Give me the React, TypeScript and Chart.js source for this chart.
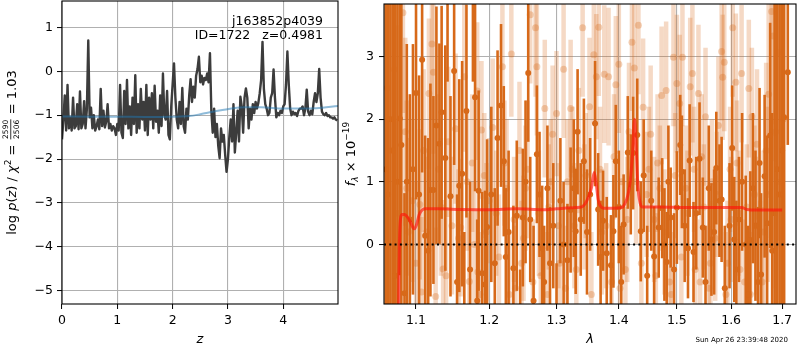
import React, { useEffect, useRef } from 'react';
import { Chart, registerables } from 'chart.js';
Chart.register(...registerables);

// ---------------- left panel: log p(z) ----------------
const zGrid = [
  0, 0.025, 0.05, 0.075, 0.1, 0.125, 0.15, 0.175, 0.2, 0.225,
  0.25, 0.275, 0.3, 0.325, 0.35, 0.375, 0.4, 0.425, 0.45, 0.475,
  0.5, 0.525, 0.55, 0.575, 0.6, 0.625, 0.65, 0.675, 0.7, 0.725,
  0.75, 0.775, 0.8, 0.825, 0.85, 0.875, 0.9, 0.925, 0.95, 0.975,
  1, 1.025, 1.05, 1.075, 1.1, 1.125, 1.15, 1.175, 1.2, 1.225,
  1.25, 1.275, 1.3, 1.325, 1.35, 1.375, 1.4, 1.425, 1.45, 1.475,
  1.5, 1.525, 1.55, 1.575, 1.6, 1.625, 1.65, 1.675, 1.7, 1.725,
  1.75, 1.775, 1.8, 1.825, 1.85, 1.875, 1.9, 1.925, 1.95, 1.975,
  2, 2.025, 2.05, 2.075, 2.1, 2.125, 2.15, 2.175, 2.2, 2.225,
  2.25, 2.275, 2.3, 2.325, 2.35, 2.375, 2.4, 2.425, 2.45, 2.475,
  2.5, 2.525, 2.55, 2.575, 2.6, 2.625, 2.65, 2.675, 2.7, 2.725,
  2.75, 2.775, 2.8, 2.825, 2.85, 2.875, 2.9, 2.925, 2.95, 2.975,
  3, 3.025, 3.05, 3.075, 3.1, 3.125, 3.15, 3.175, 3.2, 3.225,
  3.25, 3.275, 3.3, 3.325, 3.35, 3.375, 3.4, 3.425, 3.45, 3.475,
  3.5, 3.525, 3.55, 3.575, 3.6, 3.625, 3.65, 3.675, 3.7, 3.725,
  3.75, 3.775, 3.8, 3.825, 3.85, 3.875, 3.9, 3.925, 3.95, 3.975,
  4, 4.025, 4.05, 4.075, 4.1, 4.125, 4.15, 4.175, 4.2, 4.225,
  4.25, 4.275, 4.3, 4.325, 4.35, 4.375, 4.4, 4.425, 4.45, 4.475,
  4.5, 4.525, 4.55, 4.575, 4.6, 4.625, 4.65, 4.675, 4.7, 4.725,
  4.75, 4.775, 4.8, 4.825, 4.85, 4.875, 4.9, 4.925, 4.95, 4.975,
];
const logPz = [
  -1.55, -1.10, -0.55, -1.35, -0.31, -1.30, -1.05, -1.35, -0.60, -1.30,
  -1.25, -0.75, -1.32, -0.46, -1.30, -1.20, -0.68, -1.30, -0.85, 0.70,
  -1.05, -0.83, -1.30, -1.00, -1.35, -1.25, -1.10, -1.32, -0.40, -1.25,
  -0.90, -1.28, -1.15, -0.75, -1.30, -1.20, -1.35, -1.25, -1.30, -1.45,
  -1.20, -1.35, -0.31, -1.40, -1.52, -0.45, -1.20, -0.20, -1.30, -0.80,
  -1.45, -0.60, -1.20, -0.09, -1.40, -0.75, -1.30, -0.40, -1.10, -0.70,
  -1.35, -0.31, -1.45, -0.60, -1.10, -0.50, -1.30, -0.33, -1.15, -0.90,
  -1.40, -0.55, -1.25, -0.05, -1.00, -1.10, -0.45, -1.45, -1.55, -0.80,
  -0.30, 0.18, -0.60, -1.10, -1.30, -0.70, -1.20, -0.38, -1.25, -1.40,
  -0.85, -1.10, -0.55, -0.18, -0.70, -0.35, -0.60, -0.10, 0.05, 0.33,
  -0.25, -0.10, -0.30, -0.15, -0.20, -0.05, -0.25, 0.41, -0.90, -1.40,
  -0.85, -1.50, -1.20, -1.70, -1.98, -1.30, -1.60, -1.45, -1.90, -2.29,
  -2.00, -1.50, -1.10, -1.60, -0.75, -1.85, -1.40, -0.90, -1.60, -0.58,
  -0.80, -1.40, -0.60, -0.39, -0.60, -1.30, -0.85, -1.10, -0.75, -0.95,
  -0.70, -0.85, -0.72, -0.50, -0.20, 0.67, -0.40, -0.75, -0.85, -1.00,
  -0.95, -0.60, -0.50, 0.04, -0.60, -1.05, -0.95, -1.00, -0.90, -0.95,
  -0.80, -0.75, -0.30, 0.45, -0.30, -0.85, -1.00, -0.92, -0.98, -0.95,
  -1.02, -0.90, -0.85, -0.85, -0.80, -1.00, -0.85, -0.42, -0.92, -1.00,
  -0.90, -0.98, -0.70, -0.50, -0.70, -0.50, 0.05, -0.60, -0.92, -0.98,
  -1.00, -0.95, -1.02, -1.00, -1.05, -1.05, -1.08, -1.05, -1.10, -1.12,
];
const priorZ = [0, 0.5, 1.0, 1.5, 2.0, 2.3, 2.5, 2.7, 2.9, 3.1, 3.3, 3.6, 4.0, 4.3, 4.6, 4.99];
const priorLogP = [-1.03, -1.035, -1.035, -1.04, -1.035, -1.02, -0.98, -0.93, -0.88, -0.84, -0.82, -0.82, -0.85, -0.85, -0.84, -0.79];
const zTicks = [0, 1, 2, 3, 4];
const logPTicks = [-5, -4, -3, -2, -1, 0, 1];
const objName = 'j163852p4039';
const idLine = 'ID=1722   z=0.4981';

// ---------------- right panel: spectrum ----------------
const darkWave = [
  1.061, 1.064, 1.067, 1.070, 1.073, 1.076, 1.079, 1.081, 1.085, 1.088,
  1.092, 1.096, 1.100, 1.104, 1.108, 1.112, 1.116, 1.119, 1.123, 1.127,
  1.131, 1.134, 1.139, 1.142, 1.146, 1.151, 1.155, 1.158, 1.162, 1.165,
  1.168, 1.173, 1.177, 1.180, 1.183, 1.185, 1.190, 1.194, 1.197, 1.203,
  1.208, 1.212, 1.217, 1.221, 1.224, 1.228, 1.235, 1.240, 1.245, 1.249,
  1.253, 1.257, 1.260, 1.265, 1.270, 1.274, 1.278, 1.281, 1.286, 1.290,
  1.295, 1.300, 1.306, 1.311, 1.317, 1.322, 1.327, 1.330, 1.333, 1.338,
  1.343, 1.348, 1.353, 1.361, 1.366, 1.370, 1.374, 1.380, 1.387, 1.391,
  1.395, 1.400, 1.404, 1.408, 1.415, 1.420, 1.424, 1.431, 1.437, 1.442,
  1.448, 1.455, 1.460, 1.468, 1.474, 1.478, 1.482, 1.485, 1.489, 1.495,
  1.500, 1.506, 1.509, 1.514, 1.520, 1.523, 1.530, 1.535, 1.541, 1.547,
  1.552, 1.558, 1.563, 1.568, 1.572, 1.578, 1.582, 1.588, 1.597, 1.602,
  1.606, 1.610, 1.615, 1.621, 1.628, 1.633, 1.637, 1.642, 1.647, 1.652,
  1.655, 1.658, 1.665, 1.670, 1.676, 1.680, 1.685, 1.690, 1.695, 1.700,
  1.704, 1.7115,
];
const darkFlux = [
  1.2, 0.8, 2.0, 1.5, -0.5, 1.0, 2.01, 1.59, -0.78, 1.0,
  0.4, 1.2, 2.42, 0.8, 2.95, 0.14, -0.1, 0.87, 0.87, 1.9,
  1.61, 2.11, 1.38, 4.3, 0.77, 2.77, -0.60, 0.94, 1.13, -1.3,
  2.13, -0.40, 4.2, 2.35, -0.90, 0.86, -0.46, -0.64, 0.28, 0.80,
  -0.30, 1.7, 2.22, 1.33, -0.20, 0.2, -0.38, 0.46, -1.4, 0.43,
  1.0, 2.74, 0.40, -0.9, 1.44, 0.80, -0.06, -0.60, 0.9, -0.30,
  0.3, -1.3, 0.70, 0.0, -0.25, 0.55, 0.9, 0.21, 1.80, 0.4,
  1.33, 0.2, 0.8, 1.93, 0.56, -0.2, 0.38, -0.14, -0.33, 0.21,
  1.33, 0.6, -0.6, 0.32, 1.47, 0.96, 1.46, 1.75, 0.21, 1.1,
  -0.5, 0.70, -0.19, 0.27, 0.58, 0.00, -0.28, 1.0, 0.43, -0.4,
  0.59, 1.59, 1.16, 0.3, -0.06, 1.34, -0.12, 0.5, 1.37, 0.27,
  -0.6, 0.9, 0.08, 0.2, 1.22, 0.70, 0.72, -0.7, 0.3, 1.54,
  0.08, -0.4, 0.40, 1.0, 0.00, -0.8, 0.07, 0.9, 0.30, -0.6,
  1.30, -0.48, 1.09, 0.34, 1.74, -0.10, 0.5, 1.2, 0.8, 1.5,
  2.03, 2.75,
];
const darkErr = [
  6, 6, 6, 6, 6, 5, 2.5, 2.6, 1.6, 2.2,
  2.0, 2.0, 1.7, 1.9, 1.8, 1.6, 1.8, 1.7, 1.5, 1.9,
  1.6, 1.7, 1.8, 1.7, 1.6, 1.5, 1.4, 1.7, 1.8, 1.5,
  1.7, 1.4, 1.6, 1.5, 1.3, 1.6, 1.3, 1.5, 1.4, 1.4,
  1.2, 1.4, 1.3, 1.2, 1.1, 1.3, 1.0, 1.2, 1.0, 1.1,
  1.3, 1.1, 1.0, 1.2, 1.1, 1.0, 1.0, 0.9, 1.0, 0.9,
  1.0, 1.0, 1.0, 1.0, 0.9, 1.0, 1.1, 1.0, 1.0, 0.9,
  1.0, 1.0, 0.9, 1.0, 0.9, 0.9, 0.8, 0.9, 0.8, 0.9,
  0.9, 0.9, 0.9, 0.8, 0.9, 0.8, 0.9, 0.9, 0.8, 0.9,
  0.8, 0.8, 0.8, 0.8, 0.8, 0.9, 0.8, 0.9, 0.8, 0.9,
  0.9, 0.8, 0.9, 0.9, 0.8, 0.9, 0.8, 0.9, 0.9, 0.8,
  0.9, 1.0, 0.9, 1.0, 0.9, 0.9, 1.0, 1.0, 1.0, 1.0,
  1.0, 1.1, 1.0, 1.1, 1.1, 1.1, 1.1, 1.2, 1.2, 1.2,
  1.2, 1.3, 1.3, 1.4, 1.8, 2.2, 3.5, 4.0, 5.0, 5.0,
  5.0, 1.16,
];
const lightWave = [
  1.063, 1.068, 1.072, 1.076, 1.083, 1.086, 1.090, 1.095, 1.100, 1.105,
  1.107, 1.110, 1.117, 1.121, 1.123, 1.126, 1.130, 1.136, 1.143, 1.148,
  1.153, 1.160, 1.165, 1.172, 1.176, 1.183, 1.184, 1.189, 1.193, 1.196,
  1.205, 1.210, 1.219, 1.225, 1.232, 1.238, 1.244, 1.250, 1.256, 1.260,
  1.268, 1.270, 1.276, 1.282, 1.288, 1.294, 1.300, 1.305, 1.311, 1.317,
  1.322, 1.328, 1.335, 1.341, 1.346, 1.352, 1.359, 1.363, 1.367, 1.372,
  1.376, 1.383, 1.388, 1.395, 1.400, 1.405, 1.411, 1.417, 1.422, 1.426,
  1.433, 1.441, 1.447, 1.454, 1.460, 1.466, 1.473, 1.481, 1.487, 1.494,
  1.500, 1.505, 1.510, 1.516, 1.524, 1.528, 1.533, 1.539, 1.545, 1.552,
  1.558, 1.564, 1.570, 1.576, 1.582, 1.584, 1.587, 1.593, 1.598, 1.603,
  1.609, 1.614, 1.620, 1.626, 1.634, 1.640, 1.645, 1.650, 1.656, 1.663,
  1.668, 1.673, 1.679, 1.682, 1.687, 1.692, 1.697, 1.702,
  1.088, 1.114, 1.133, 1.140, 1.157, 1.169, 1.179, 1.187, 1.200, 1.214,
  1.222, 1.229, 1.236, 1.247, 1.253, 1.264, 1.273, 1.286, 1.291, 1.303,
  1.314, 1.325, 1.331, 1.344, 1.355, 1.369, 1.379, 1.392, 1.402, 1.414,
  1.429, 1.438, 1.451, 1.463, 1.470, 1.478, 1.490, 1.497, 1.508, 1.519,
  1.531, 1.542, 1.549, 1.561, 1.573, 1.590, 1.600, 1.611, 1.617, 1.630,
  1.637, 1.648, 1.660, 1.671,
];
const lightFlux = [
  2.5, 1.5, 2.8, 0.5, 3.70, 1.80, 0.2, 0.70, -0.3, 0.64,
  -0.76, 1.5, 2.41, 3.20, 2.75, -0.83, 1.2, -0.39, 1.64, 0.3,
  1.85, 0.27, 2.68, -0.59, 1.3, 2.45, -0.44, 1.83, 1.1, 0.2,
  1.87, 0.5, 2.84, 0.9, 3.04, -0.7, 1.5, 0.1, 1.2, 3.67,
  3.46, 2.84, -0.5, 2.17, 0.6, 1.76, 2.09, -0.3, 2.80, 1.0,
  2.17, 0.3, 1.5, 3.46, 1.1, 2.2, 3.03, 2.68, 3.47, 0.2,
  2.72, 2.68, -0.6, 2.55, 2.88, 1.0, -0.4, 1.8, 3.23, 2.82,
  3.50, 2.19, 0.8, 1.76, 0.4, 1.3, 2.38, 2.46, -0.6, 2.99,
  2.57, 2.25, 2.99, 0.9, 2.52, 2.73, -0.4, 2.41, 1.4, 2.04,
  -0.7, 1.0, 0.1, 1.9, 3.08, 2.67, 2.91, -0.3, 1.2, 3.46,
  2.59, 0.5, 2.73, -0.6, 2.49, 2.04, 0.8, 1.6, -0.5, 0.2,
  1.5, 2.4, 3.72, 3.33, 1.8, 3.06, 1.0, 2.0,
  0.9, 0.2, 0.6, -0.5, 0.1, 1.0, 0.0, -0.8, 0.7, -0.2,
  1.3, -0.8, 0.4, -0.3, 0.9, -0.6, 0.5, -0.8, 1.0, 0.3,
  -0.7, 1.2, -0.4, 0.6, -0.8, 1.2, 0.3, 1.4, -0.7, 0.4,
  1.0, -0.3, 1.2, -0.5, 0.9, 0.2, -0.8, 1.1, -0.2, 0.5,
  1.2, -0.6, 0.6, -0.3, 0.8, -0.8, 0.4, 1.3, -0.4, 0.6,
  -0.8, 0.3, -0.6, 0.8,
];
const lightErr = [
  4.0, 4.0, 3.0, 3.0, 1.6, 1.5, 1.5, 1.3, 1.3, 1.2,
  1.2, 1.3, 1.2, 1.2, 1.3, 1.1, 1.2, 1.1, 1.2, 1.1,
  1.2, 1.1, 1.2, 1.1, 1.1, 1.1, 1.0, 1.1, 1.0, 1.1,
  1.1, 1.0, 1.0, 1.1, 1.0, 1.0, 1.1, 1.0, 1.1, 1.1,
  1.1, 1.1, 1.0, 1.1, 1.0, 1.1, 1.0, 1.0, 1.1, 1.0,
  1.1, 1.0, 1.0, 1.1, 1.0, 1.1, 1.1, 1.0, 1.1, 1.0,
  1.1, 1.1, 1.0, 1.1, 1.1, 1.0, 1.0, 1.1, 1.1, 1.1,
  1.1, 1.1, 1.0, 1.1, 1.0, 1.1, 1.1, 1.1, 1.0, 1.1,
  1.1, 1.1, 1.1, 1.0, 1.1, 1.1, 1.0, 1.1, 1.0, 1.1,
  1.0, 1.0, 1.0, 1.1, 1.1, 1.0, 1.1, 1.0, 1.0, 1.1,
  1.1, 1.0, 1.1, 1.0, 1.1, 1.1, 1.1, 1.2, 1.2, 1.3,
  1.4, 1.6, 1.8, 2.0, 2.5, 3.0, 3.5, 4.0,
  1.4, 1.2, 1.1, 1.1, 1.1, 1.1, 1.0, 1.0, 1.0, 1.0,
  1.0, 1.0, 1.0, 1.0, 1.0, 1.0, 1.0, 1.0, 1.0, 1.0,
  1.0, 1.0, 1.0, 1.0, 1.0, 1.0, 1.0, 1.0, 1.0, 1.0,
  1.0, 1.0, 1.0, 1.0, 1.0, 1.0, 1.0, 1.0, 1.0, 1.0,
  1.0, 1.0, 1.0, 1.0, 1.0, 1.0, 1.0, 1.0, 1.0, 1.0,
  1.0, 1.1, 1.2, 1.4,
];
const modelWave = [
  1.0770, 1.0785, 1.0800, 1.0820, 1.0850, 1.0880, 1.0920, 1.0960, 1.0980, 1.1010,
  1.1040, 1.1080, 1.1120, 1.1300, 1.1600, 1.2000, 1.2400, 1.2800, 1.3000, 1.3300,
  1.3400, 1.3450, 1.3500, 1.3550, 1.3595, 1.3625, 1.3660, 1.3700, 1.3750, 1.3900,
  1.4050, 1.4100, 1.4150, 1.4190, 1.4230, 1.4265, 1.4290, 1.4320, 1.4360, 1.4400,
  1.4700, 1.5200, 1.5800, 1.6200, 1.6300, 1.6500, 1.7000,
];
const modelFlux = [
  -1.5, 0.0, 0.42, 0.48, 0.48, 0.45, 0.38, 0.27, 0.25, 0.33,
  0.47, 0.55, 0.57, 0.57, 0.56, 0.555, 0.57, 0.555, 0.57, 0.59,
  0.60, 0.65, 0.75, 0.90, 1.15, 1.00, 0.72, 0.61, 0.58, 0.58,
  0.59, 0.65, 0.78, 1.00, 1.45, 2.00, 1.60, 0.95, 0.66, 0.60,
  0.60, 0.59, 0.59, 0.59, 0.56, 0.55, 0.55,
];
const lamTicks = [1.1, 1.2, 1.3, 1.4, 1.5, 1.6, 1.7];
const fluxTicks = [0, 1, 2, 3];
const LAM_MIN = 1.0589;
const LAM_MAX = 1.7283;
const dateText = 'Sun Apr 26 23:39:48 2020';

// ---------------- styling helpers ----------------
const FONT = "'DejaVu Sans', sans-serif";
const R = (s: number) => `${s}px ${FONT}`;
const I = (s: number) => `italic ${s}px ${FONT}`;
const DARK = 'rgb(215,105,25)';
const LIGHT_BAR = 'rgba(215,105,25,0.25)';
const LIGHT_DOT = 'rgba(215,105,25,0.3)';
const GRID = '#b0b0b0';
const minus = (v: number) => String(v).replace('-', '\u2212');

const fixW = (w: number) => (s: any) => {
  s.width = w; s.paddingLeft = 0; s.paddingRight = 0; s.paddingTop = 0; s.paddingBottom = 0;
};
const fixH = (h: number) => (s: any) => {
  s.height = h; s.paddingLeft = 0; s.paddingRight = 0; s.paddingTop = 0; s.paddingBottom = 0;
};
const setTicks = (vals: number[]) => (s: any) => { s.ticks = vals.map((v) => ({ value: v })); };

type Seg = { t: string; f: string; dy?: number } | { num: string; den: string; f: string };

function drawRotatedRich(ctx: CanvasRenderingContext2D, segs: Seg[], baseX: number, cy: number) {
  ctx.save();
  ctx.translate(baseX, cy);
  ctx.rotate(-Math.PI / 2);
  ctx.fillStyle = '#000';
  ctx.textBaseline = 'alphabetic';
  ctx.textAlign = 'left';
  const widths = segs.map((s) => {
    ctx.font = s.f;
    if ('t' in s) return ctx.measureText(s.t).width;
    return Math.max(ctx.measureText(s.num).width, ctx.measureText(s.den).width) + 3;
  });
  const total = widths.reduce((a, b) => a + b, 0);
  let x = -total / 2;
  segs.forEach((s, i) => {
    ctx.font = s.f;
    if ('t' in s) {
      ctx.fillText(s.t, x, s.dy || 0);
    } else {
      const w = widths[i];
      ctx.textAlign = 'center';
      ctx.fillText(s.num, x + w / 2, -7.8);
      ctx.fillText(s.den, x + w / 2, 3.4);
      ctx.fillRect(x + 1, -5.6, w - 2, 0.8);
      ctx.textAlign = 'left';
    }
    x += widths[i];
  });
  ctx.restore();
}

const framePlugin = {
  id: 'frame',
  afterDraw(chart: any) {
    const { ctx, chartArea: a } = chart;
    ctx.save();
    ctx.strokeStyle = '#000';
    ctx.lineWidth = 1.1;
    ctx.strokeRect(a.left, a.top, a.right - a.left, a.bottom - a.top);
    ctx.restore();
  },
};

const leftLabel: Seg[] = [
  { t: 'log ', f: R(13) }, { t: 'p', f: I(13) }, { t: '(', f: R(13) }, { t: 'z', f: I(13) },
  { t: ') / ', f: R(13) }, { t: 'χ', f: I(13) }, { t: '2', f: R(9), dy: -5.5 }, { t: ' = ', f: R(13) },
  { num: '2590', den: '2506', f: R(7.5) }, { t: ' = 1.03', f: R(13) },
];
const rightLabel: Seg[] = [
  { t: 'f', f: I(13) }, { t: 'λ', f: I(9), dy: 3 }, { t: ' × 10', f: R(13) }, { t: '\u221219', f: R(9), dy: -5.5 },
];

const leftText = {
  id: 'leftText',
  afterDraw(chart: any) {
    const ctx = chart.ctx as CanvasRenderingContext2D;
    ctx.save();
    ctx.fillStyle = '#000';
    ctx.font = R(12.5);
    ctx.textAlign = 'right';
    ctx.textBaseline = 'alphabetic';
    ctx.fillText(objName, 323, 24.5);
    ctx.fillText(idLine, 323, 39);
    ctx.restore();
    const a = chart.chartArea;
    drawRotatedRich(ctx, leftLabel, 16, (a.top + a.bottom) / 2);
  },
};

const rightText = {
  id: 'rightText',
  afterDraw(chart: any) {
    const ctx = chart.ctx as CanvasRenderingContext2D;
    const a = chart.chartArea;
    drawRotatedRich(ctx, rightLabel, 14.5, (a.top + a.bottom) / 2);
    ctx.save();
    ctx.fillStyle = '#000';
    ctx.font = R(7);
    ctx.textAlign = 'center';
    ctx.textBaseline = 'alphabetic';
    ctx.fillText(dateText, 401.7, 342);
    ctx.restore();
  },
};

const tickFont = { family: FONT, size: 12.5 };
const gridOpts = { color: GRID, lineWidth: 1.1, tickColor: '#000', tickLength: 5, tickWidth: 1 };

function makeLeft(): any {
  return {
    type: 'scatter',
    data: {
      datasets: [
        {
          type: 'line', showLine: true, data: priorZ.map((z, i) => ({ x: z, y: priorLogP[i] })),
          borderColor: 'rgba(31,119,180,0.5)', borderWidth: 2, pointRadius: 0,
          cubicInterpolationMode: 'monotone', order: 1, clip: 0,
        },
        {
          type: 'line', showLine: true, data: zGrid.map((z, i) => ({ x: z, y: logPz[i] })),
          borderColor: '#3c3c3c', borderWidth: 2.4, pointRadius: 0, tension: 0,
          borderJoinStyle: 'round', order: 2, clip: 0,
        },
      ],
    },
    options: {
      responsive: false, animation: false, events: [],
      layout: { padding: { top: 1, right: 2, left: 0, bottom: 0 } },
      plugins: { legend: { display: false }, tooltip: { enabled: false } },
      scales: {
        x: {
          type: 'linear', min: 0, max: 4.99, z: 1,
          afterBuildTicks: setTicks(zTicks), afterFit: fixH(46),
          ticks: { autoSkip: false, maxRotation: 0, padding: 4, color: '#000', font: tickFont, callback: (v: number) => minus(v) },
          grid: gridOpts, border: { display: false },
          title: { display: true, text: 'z', color: '#000', font: { family: FONT, size: 13, style: 'italic' }, padding: { top: 0, bottom: 3 } },
        },
        y: {
          type: 'linear', min: -5.3, max: 1.6, z: 1,
          afterBuildTicks: setTicks(logPTicks), afterFit: fixW(62),
          ticks: { autoSkip: false, padding: 4, color: '#000', font: tickFont, callback: (v: number) => minus(v) },
          grid: gridOpts, border: { display: false },
        },
      },
    },
    plugins: [framePlugin, leftText],
  };
}

function makeRight(): any {
  return {
    type: 'scatter',
    data: {
      datasets: [
        {
          type: 'line', showLine: true, data: [{ x: LAM_MIN, y: 0 }, { x: LAM_MAX, y: 0 }],
          borderColor: '#000', borderWidth: 2, borderDash: [2, 3.3], pointRadius: 0, order: 1, clip: 0,
        },
        {
          type: 'line', showLine: true, data: modelWave.map((w, i) => ({ x: w, y: modelFlux[i] })),
          borderColor: 'rgba(255,20,10,0.65)', borderWidth: 3, pointRadius: 0,
          cubicInterpolationMode: 'monotone', borderJoinStyle: 'round', order: 2, clip: 0,
        },
        {
          type: 'scatter', data: darkWave.map((w, i) => ({ x: w, y: darkFlux[i] })),
          pointRadius: 3, pointBackgroundColor: DARK, pointBorderWidth: 0, order: 3, clip: 0,
        },
        {
          type: 'bar', grouped: false, barThickness: 2.6, inflateAmount: 0,
          data: darkWave.map((w, i) => ({ x: w, y: [darkFlux[i] - darkErr[i], darkFlux[i] + darkErr[i]] })),
          backgroundColor: DARK, borderWidth: 0, order: 4, clip: 0,
        },
        {
          type: 'scatter', data: lightWave.map((w, i) => ({ x: w, y: lightFlux[i] })),
          pointRadius: 3.5, pointBackgroundColor: LIGHT_DOT, pointBorderWidth: 0, order: 5, clip: 0,
        },
        {
          type: 'bar', grouped: false, barThickness: 4.5, inflateAmount: 0,
          data: lightWave.map((w, i) => ({ x: w, y: [lightFlux[i] - lightErr[i], lightFlux[i] + lightErr[i]] })),
          backgroundColor: LIGHT_BAR, borderWidth: 0, order: 6, clip: 0,
        },
      ],
    },
    options: {
      responsive: false, animation: false, events: [],
      layout: { padding: { top: 1, right: 1, left: 0, bottom: 0 } },
      plugins: { legend: { display: false }, tooltip: { enabled: false } },
      scales: {
        x: {
          type: 'logarithmic', min: LAM_MIN, max: LAM_MAX, z: 1, offset: false,
          afterBuildTicks: setTicks(lamTicks), afterFit: fixH(46),
          ticks: { autoSkip: false, maxRotation: 0, padding: 4, color: '#000', font: tickFont, callback: (v: number) => Number(v).toFixed(1) },
          grid: { ...gridOpts, offset: false }, border: { display: false },
          title: { display: true, text: 'λ', color: '#000', font: { family: FONT, size: 13, style: 'italic' }, padding: { top: 0, bottom: 3 } },
        },
        y: {
          type: 'linear', min: -0.95, max: 3.84, z: 1,
          afterBuildTicks: setTicks(fluxTicks), afterFit: fixW(44),
          ticks: { autoSkip: false, padding: 5, color: '#000', font: tickFont, callback: (v: number) => minus(v) },
          grid: gridOpts, border: { display: false },
        },
      },
    },
    plugins: [framePlugin, rightText],
  };
}

export default function App() {
  const leftRef = useRef<HTMLCanvasElement>(null);
  const rightRef = useRef<HTMLCanvasElement>(null);
  useEffect(() => {
    document.body.style.margin = '0';
    Chart.defaults.font.family = FONT;
    Chart.defaults.color = '#000';
    const c1 = new Chart(leftRef.current as HTMLCanvasElement, makeLeft());
    const c2 = new Chart(rightRef.current as HTMLCanvasElement, makeRight());
    return () => { c1.destroy(); c2.destroy(); };
  }, []);
  return (
    <div style={{ position: 'relative', width: 800, height: 350, background: '#fff', overflow: 'hidden' }}>
      <style>{'body{margin:0}'}</style>
      <canvas ref={leftRef} width={340} height={350}
        style={{ position: 'absolute', left: 0, top: 0, width: 340, height: 350, display: 'block' }} />
      <canvas ref={rightRef} width={460} height={350}
        style={{ position: 'absolute', left: 340, top: 0, width: 460, height: 350, display: 'block' }} />
    </div>
  );
}
